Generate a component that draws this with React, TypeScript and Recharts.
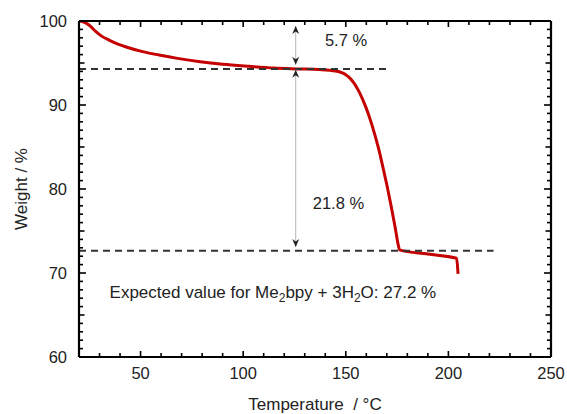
import { LineChart, Line, XAxis, YAxis, ReferenceDot, Label } from "recharts";

// TGA trace
const temperature = [20, 22, 25, 28.4, 31, 34.9, 39, 43, 51, 59, 68, 79, 90, 103, 115, 126, 137, 142, 145, 148, 150, 152, 154, 156, 158, 160, 162, 164, 166, 168, 170, 172, 174, 175.6, 176.2, 190, 204, 204.7];
const weight = [100, 99.9, 99.5, 98.7, 98.2, 97.7, 97.25, 96.9, 96.35, 95.95, 95.55, 95.15, 94.85, 94.6, 94.4, 94.3, 94.22, 94.15, 94.05, 93.85, 93.6, 93.2, 92.6, 91.8, 90.8, 89.6, 88.2, 86.6, 84.8, 82.7, 80.5, 78.1, 75.5, 73.3, 72.75, 72.25, 71.75, 69.9];

const xMajor = [50, 100, 150, 200, 250];
const xMinor = [30, 40, 60, 70, 80, 90, 110, 120, 130, 140, 160, 170, 180, 190, 210, 220, 230, 240];
const yMajor = [60, 70, 80, 90, 100];
const yMid = [65, 75, 85, 95];
const yMinor = [61, 62, 63, 64, 66, 67, 68, 69, 71, 72, 73, 74, 76, 77, 78, 79, 81, 82, 83, 84, 86, 87, 88, 89, 91, 92, 93, 94, 96, 97, 98, 99];

// guide lines
const upperLevel = 94.3;
const lowerLevel = 72.65;
const upperGuideEnd = 170.5;
const lowerGuideEnd = 222;
const arrowT = 125.6;
const upperArrow = [99.4, 94.8];
const lowerArrow = [94.2, 73.1];

const trace = temperature.map((t, i) => ({ t, w: weight[i] }));
const upperGuide = [{ t: 20, w: upperLevel }, { t: upperGuideEnd, w: upperLevel }];
const lowerGuide = [{ t: 20, w: lowerLevel }, { t: lowerGuideEnd, w: lowerLevel }];
const upperArrowData = upperArrow.map((w) => ({ t: arrowT, w }));
const lowerArrowData = lowerArrow.map((w) => ({ t: arrowT, w }));

const xTicks = [...xMajor, ...xMinor].sort((a, b) => a - b);
const yTicks = [...yMajor, ...yMid, ...yMinor].sort((a, b) => a - b);

const FONT = "'Liberation Sans', Arial, sans-serif";
const TXT = "#222";
const TICK_W = 1.6;

const yLen = (v: number) => (yMajor.includes(v) ? 7 : yMid.includes(v) ? 5.5 : 4);
const xLen = (v: number) => (xMajor.includes(v) ? 6 : 4);

// ticks point inward on all four sides
const BottomTick = (p: any) => {
  const v = p.payload.value;
  const major = xMajor.includes(v);
  return (
    <g>
      <line x1={p.x} y1={p.y} x2={p.x} y2={p.y - xLen(v)} stroke="#000" strokeWidth={TICK_W} />
      {major && (
        <text x={p.x} y={p.y + 21.5} textAnchor="middle" fontFamily={FONT} fontSize={16.5} fill={TXT}>
          {v}
        </text>
      )}
    </g>
  );
};
const TopTick = (p: any) => {
  const v = p.payload.value;
  return <line x1={p.x} y1={p.y} x2={p.x} y2={p.y + xLen(v)} stroke="#000" strokeWidth={TICK_W} />;
};
const LeftTick = (p: any) => {
  const v = p.payload.value;
  const major = yMajor.includes(v);
  return (
    <g>
      <line x1={p.x} y1={p.y} x2={p.x + yLen(v)} y2={p.y} stroke="#000" strokeWidth={TICK_W} />
      {major && (
        <text x={p.x - 12} y={p.y + 6} textAnchor="end" fontFamily={FONT} fontSize={16.5} fill={TXT}>
          {v}
        </text>
      )}
    </g>
  );
};
const RightTick = (p: any) => {
  const v = p.payload.value;
  return <line x1={p.x} y1={p.y} x2={p.x - yLen(v)} y2={p.y} stroke="#000" strokeWidth={TICK_W} />;
};

const arrowHead = (props: any) => {
  const { cx, cy, index } = props;
  const d = index === 0 ? 1 : -1; // first point points up
  return (
    <path
      key={`ah-${index}`}
      d={`M${cx},${cy} L${cx - 3.5},${cy + d * 8} L${cx},${cy + d * 5.5} L${cx + 3.5},${cy + d * 8} Z`}
      fill="#222"
      stroke="none"
    />
  );
};

const textShape = (content: any, anchor: string, size: number) => (props: any) => (
  <text
    x={props.cx}
    y={props.cy}
    textAnchor={anchor}
    dominantBaseline="central"
    fontFamily={FONT}
    fontSize={size}
    fill={TXT}
  >
    {content}
  </text>
);

const expected = (
  <>
    Expected value for Me
    <tspan dy={6} fontSize={12}>2</tspan>
    <tspan dy={-6}>bpy + 3H</tspan>
    <tspan dy={6} fontSize={12}>2</tspan>
    <tspan dy={-6}>O: 27.2 %</tspan>
  </>
);

const al = { stroke: "#000", strokeWidth: 2.2 };

export default function App() {
  return (
    <div style={{ position: "absolute", left: 0, top: 0, background: "#fff" }}>
      <LineChart width={567} height={414} margin={{ top: 20, right: 15, bottom: 0, left: 0 }}>
        <XAxis type="number" dataKey="t" domain={[20, 250]} allowDataOverflow ticks={xTicks} interval={0} height={57} tickSize={0} tickMargin={0} tick={<BottomTick />} tickLine={false} axisLine={al}>
          <Label
            content={(p: any) => (
              <text x={p.viewBox.x + p.viewBox.width / 2} y={p.viewBox.y + 53} textAnchor="middle" fontFamily={FONT} fontSize={17} fill={TXT} style={{ whiteSpace: "pre" }}>
                {"Temperature  / °C"}
              </text>
            )}
          />
        </XAxis>
        <XAxis xAxisId="top" orientation="top" type="number" dataKey="t" domain={[20, 250]} allowDataOverflow ticks={xTicks} interval={0} height={1} tickSize={0} tickMargin={0} tick={<TopTick />} tickLine={false} axisLine={al} />

        <YAxis type="number" dataKey="w" domain={[60, 100]} allowDataOverflow ticks={yTicks} interval={0} width={79} tickSize={0} tickMargin={0} tick={<LeftTick />} tickLine={false} axisLine={al}>
          <Label
            content={(p: any) => {
              const x = 27;
              const y = p.viewBox.y + p.viewBox.height / 2;
              return (
                <text x={x} y={y} transform={`rotate(-90, ${x}, ${y})`} textAnchor="middle" fontFamily={FONT} fontSize={17} fill={TXT}>
                  Weight / %
                </text>
              );
            }}
          />
        </YAxis>
        <YAxis yAxisId="right" orientation="right" type="number" dataKey="w" domain={[60, 100]} allowDataOverflow ticks={yTicks} interval={0} width={1} tickSize={0} tickMargin={0} tick={<RightTick />} tickLine={false} axisLine={al} />

        <Line data={trace} dataKey="w" type="monotone" stroke="#c40000" strokeWidth={3} dot={false} isAnimationActive={false} />
        <Line data={upperGuide} dataKey="w" stroke="#333" strokeWidth={2} strokeDasharray="7 5" dot={false} isAnimationActive={false} />
        <Line data={lowerGuide} dataKey="w" stroke="#333" strokeWidth={2} strokeDasharray="7 5" dot={false} isAnimationActive={false} />
        <Line data={upperArrowData} dataKey="w" stroke="#b4b4b4" strokeWidth={1} dot={arrowHead} isAnimationActive={false} />
        <Line data={lowerArrowData} dataKey="w" stroke="#b4b4b4" strokeWidth={1} dot={arrowHead} isAnimationActive={false} />

        <ReferenceDot x={150.1} y={97.7} r={0} shape={textShape("5.7 %", "middle", 16.5)} />
        <ReferenceDot x={146.4} y={78.3} r={0} shape={textShape("21.8 %", "middle", 16.5)} />
        <ReferenceDot x={34.9} y={67.7} r={0} shape={textShape(expected, "start", 17)} />
      </LineChart>
    </div>
  );
}
